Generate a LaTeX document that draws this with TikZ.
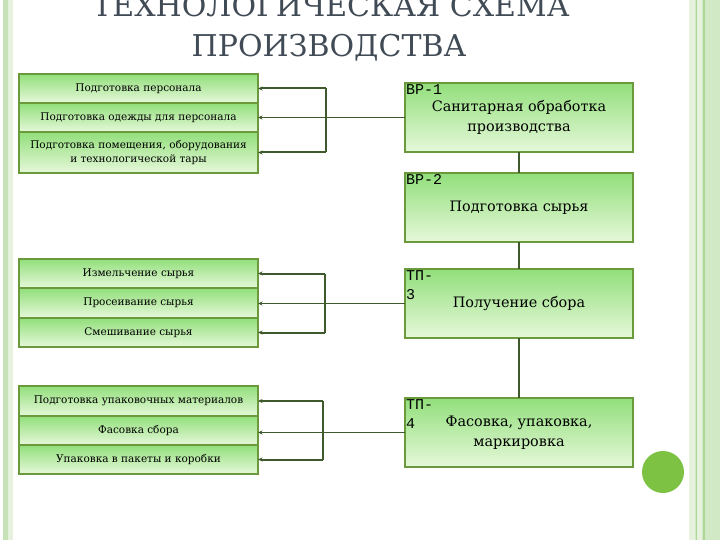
\documentclass[tikz,border=0pt]{standalone}
\usepackage{fontspec}
\setmainfont{DejaVu Serif}
\newfontfamily\tagfont{Liberation Mono}
\usetikzlibrary{arrows.meta,positioning}
\usepackage{xcolor}
\definecolor{boxline}{HTML}{6B9A3C}
\definecolor{boxtop}{HTML}{92DF7B}
\definecolor{boxbot}{HTML}{E6F8DA}
\definecolor{wire}{HTML}{3E5A2C}
\definecolor{titlegray}{HTML}{414B56}
\definecolor{stripA}{HTML}{C6E2B6}
\definecolor{stripB}{HTML}{E6F2DE}
\definecolor{stripC}{HTML}{D2E9C5}
\definecolor{stripD}{HTML}{ADD699}
\definecolor{dotgreen}{HTML}{7DC242}

\begin{document}
\begin{tikzpicture}[
            x=1pt, y=-1pt,
            node distance=0pt,
            stepbox/.style={rectangle, draw=boxline, line width=1.5pt, top color=boxtop, bottom color=boxbot, minimum width=239pt, inner sep=1pt, outer sep=0pt, align=center, font=\fontsize{10.5}{14}\selectfont},
            stagebox/.style={rectangle, draw=boxline, line width=1.5pt, top color=boxtop, bottom color=boxbot, minimum width=228pt, minimum height=69pt, inner sep=2pt, outer sep=0pt, align=center, font=\fontsize{14.4}{20}\selectfont},
            tag/.style={anchor=north west, inner sep=1pt, align=left, font=\tagfont\fontsize{15}{19}\selectfont},
            title/.style={anchor=base, text=titlegray, font=\fontsize{30}{36}\selectfont},
            feed/.style={-{Stealth[length=4.5pt,width=4pt]}, draw=wire, line width=2pt},
            trunk/.style={draw=wire, line width=1.4pt},
            link/.style={-{Stealth[length=4.5pt,width=4pt]}, draw=wire, line width=0.9pt},
            stagelink/.style={draw=wire, line width=1.3pt}
        ]
            \useasboundingbox (0,0) rectangle (720,540);

            % --- page strips ---
            \fill[stripA] (3,0) rectangle (8,540);
            \fill[stripB] (8,0) rectangle (13,540);
            \fill[stripC] (689,0) rectangle (720,540);
            \fill[stripB] (689,0) rectangle (695,540);
            \fill[stripD] (695.5,0) rectangle (697,540);
            \fill[stripB] (697,0) rectangle (702,540);
            \fill[stripD] (702.5,0) rectangle (704.5,540);

            % --- title ---
            \node[title] (title1) at (331,17) {ТЕХНОЛОГИЧЕСКАЯ СХЕМА};
            \node[title] (title2) at (329,57) {ПРОИЗВОДСТВА};

            % --- STAGES (right) ---
            \node[stagebox, anchor=north west] (vr1) at (405,83) {Санитарная обработка\\производства};
            \node[tag] (tag1) at (vr1.north west) {ВР-1};

            \node[stagebox, below=21pt of vr1] (vr2) {Подготовка сырья};
            \node[tag] (tag2) at (vr2.north west) {ВР-2};

            \node[stagebox, below=27pt of vr2] (tp3) {Получение сбора};
            \node[tag] (tag3) at (tp3.north west) {ТП-\\3};

            \node[stagebox, below=60pt of tp3] (tp4) {Фасовка, упаковка,\\маркировка};
            \node[tag] (tag4) at (tp4.north west) {ТП-\\4};

            % --- OPERATIONS (left) ---
            % group 1
            \node[stepbox, minimum height=29pt, anchor=north west] (prep1) at (19,74) {Подготовка персонала};
            \node[stepbox, minimum height=29pt, below=of prep1] (prep2) {Подготовка одежды для персонала};
            \node[stepbox, minimum height=41pt, below=of prep2] (prep3) {Подготовка помещения, оборудования\\и технологической тары};

            % group 2
            \node[stepbox, minimum height=29pt, anchor=north west] (mill1) at (19,259) {Измельчение сырья};
            \node[stepbox, minimum height=30pt, below=of mill1] (mill2) {Просеивание сырья};
            \node[stepbox, minimum height=29pt, below=of mill2] (mill3) {Смешивание сырья};

            % group 3
            \node[stepbox, minimum height=30pt, anchor=north west] (pack1) at (19,386) {Подготовка упаковочных материалов};
            \node[stepbox, minimum height=29pt, below=of pack1] (pack2) {Фасовка сбора};
            \node[stepbox, minimum height=29pt, below=of pack2] (pack3) {Упаковка в пакеты и коробки};

            % --- connectors ---
            \draw[stagelink] (vr1) -- (vr2);
            \draw[stagelink] (vr2) -- (tp3);
            \draw[stagelink] (tp3) -- (tp4);

            \coordinate (fork1) at ([xshift=68pt]prep1.east);
            \draw[trunk] (fork1) -- (fork1 |- prep3.east);
            \draw[feed] (fork1) -- (prep1.east);
            \draw[feed] (fork1 |- prep3.east) -- (prep3.east);
            \draw[link] (vr1.west) -- (prep2.east |- vr1.west);

            \coordinate (fork2) at ([xshift=67pt]mill1.east);
            \draw[trunk] (fork2) -- (fork2 |- mill3.east);
            \draw[feed] (fork2) -- (mill1.east);
            \draw[feed] (fork2 |- mill3.east) -- (mill3.east);
            \draw[link] (tp3.west) -- (mill2.east |- tp3.west);

            \coordinate (fork3) at ([xshift=65pt]pack1.east);
            \draw[trunk] (fork3) -- (fork3 |- pack3.east);
            \draw[feed] (fork3) -- (pack1.east);
            \draw[feed] (fork3 |- pack3.east) -- (pack3.east);
            \draw[link] (tp4.west) -- (pack2.east |- tp4.west);

            % --- corner dot ---
            \fill[dotgreen] (663,472) circle (21pt);
        \end{tikzpicture}
\end{document}
